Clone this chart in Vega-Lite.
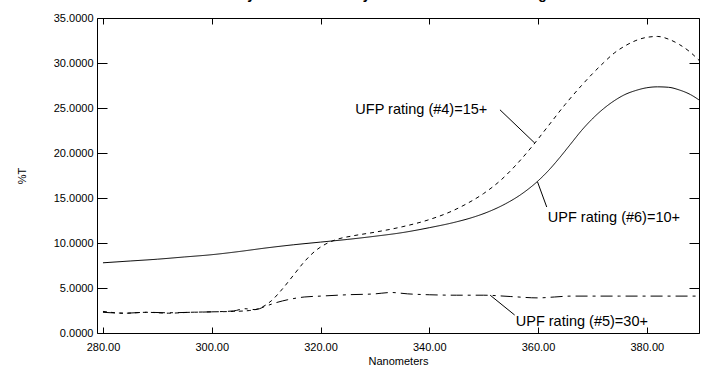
{
  "$schema": "https://vega.github.io/schema/vega-lite/v6.json",
  "autosize": {"type": "none"},
  "padding": {"left": 97, "top": 18, "right": 6, "bottom": 38},
  "width": 602,
  "height": 315,
  "background": "white",
  "title": {"text": "Transmittance by Fabric Assembly Tested versus UPF Rating", "font": "Liberation Sans", "fontSize": 14, "fontWeight": "bold", "color": "black", "anchor": "start", "frame": "group", "dx": 43, "offset": 10},
  "config": {
    "view": {"stroke": null},
    "axis": {"grid": false, "domainColor": "black", "tickColor": "black", "labelColor": "black", "titleColor": "black", "labelFont": "Liberation Sans", "titleFont": "Liberation Sans", "labelFontSize": 11, "titleFontSize": 11, "titleFontWeight": "normal"}
  },
  "datasets": {
    "curves": [
      {"s": "s6", "nm": 280, "v": 7.8}, {"s": "s6", "nm": 285, "v": 8.0}, {"s": "s6", "nm": 290, "v": 8.2}, {"s": "s6", "nm": 295, "v": 8.45}, {"s": "s6", "nm": 300, "v": 8.7}, {"s": "s6", "nm": 305, "v": 9.05}, {"s": "s6", "nm": 310, "v": 9.45}, {"s": "s6", "nm": 315, "v": 9.8}, {"s": "s6", "nm": 320, "v": 10.1}, {"s": "s6", "nm": 325, "v": 10.4}, {"s": "s6", "nm": 330, "v": 10.75}, {"s": "s6", "nm": 335, "v": 11.15}, {"s": "s6", "nm": 340, "v": 11.7}, {"s": "s6", "nm": 345, "v": 12.35}, {"s": "s6", "nm": 348, "v": 12.85}, {"s": "s6", "nm": 351, "v": 13.5}, {"s": "s6", "nm": 354, "v": 14.35}, {"s": "s6", "nm": 357, "v": 15.45}, {"s": "s6", "nm": 360, "v": 16.9}, {"s": "s6", "nm": 362, "v": 18.1}, {"s": "s6", "nm": 364, "v": 19.5}, {"s": "s6", "nm": 366, "v": 21.0}, {"s": "s6", "nm": 368, "v": 22.5}, {"s": "s6", "nm": 370, "v": 23.8}, {"s": "s6", "nm": 372, "v": 24.9}, {"s": "s6", "nm": 374, "v": 25.8}, {"s": "s6", "nm": 376, "v": 26.5}, {"s": "s6", "nm": 378, "v": 26.95}, {"s": "s6", "nm": 380, "v": 27.25}, {"s": "s6", "nm": 382, "v": 27.35}, {"s": "s6", "nm": 384, "v": 27.3}, {"s": "s6", "nm": 386, "v": 27.0}, {"s": "s6", "nm": 388, "v": 26.5}, {"s": "s6", "nm": 389.6, "v": 25.9},
      {"s": "s4", "nm": 280, "v": 2.4}, {"s": "s4", "nm": 284, "v": 2.2}, {"s": "s4", "nm": 288, "v": 2.3}, {"s": "s4", "nm": 292, "v": 2.2}, {"s": "s4", "nm": 296, "v": 2.3}, {"s": "s4", "nm": 300, "v": 2.35}, {"s": "s4", "nm": 304, "v": 2.4}, {"s": "s4", "nm": 307, "v": 2.5}, {"s": "s4", "nm": 309, "v": 2.8}, {"s": "s4", "nm": 311, "v": 3.6}, {"s": "s4", "nm": 313, "v": 4.9}, {"s": "s4", "nm": 315, "v": 6.4}, {"s": "s4", "nm": 317, "v": 7.9}, {"s": "s4", "nm": 319, "v": 9.1}, {"s": "s4", "nm": 321, "v": 9.9}, {"s": "s4", "nm": 323, "v": 10.4}, {"s": "s4", "nm": 326, "v": 10.8}, {"s": "s4", "nm": 330, "v": 11.2}, {"s": "s4", "nm": 335, "v": 11.8}, {"s": "s4", "nm": 340, "v": 12.6}, {"s": "s4", "nm": 344, "v": 13.5}, {"s": "s4", "nm": 347, "v": 14.4}, {"s": "s4", "nm": 350, "v": 15.5}, {"s": "s4", "nm": 353, "v": 16.9}, {"s": "s4", "nm": 356, "v": 18.7}, {"s": "s4", "nm": 359, "v": 20.8}, {"s": "s4", "nm": 362, "v": 23.1}, {"s": "s4", "nm": 365, "v": 25.4}, {"s": "s4", "nm": 368, "v": 27.5}, {"s": "s4", "nm": 370, "v": 28.8}, {"s": "s4", "nm": 372, "v": 30.0}, {"s": "s4", "nm": 374, "v": 31.1}, {"s": "s4", "nm": 376, "v": 31.9}, {"s": "s4", "nm": 378, "v": 32.5}, {"s": "s4", "nm": 380, "v": 32.85}, {"s": "s4", "nm": 382, "v": 32.95}, {"s": "s4", "nm": 384, "v": 32.65}, {"s": "s4", "nm": 386, "v": 32.05}, {"s": "s4", "nm": 388, "v": 31.2}, {"s": "s4", "nm": 389.6, "v": 30.3},
      {"s": "s5", "nm": 280, "v": 2.3}, {"s": "s5", "nm": 284, "v": 2.2}, {"s": "s5", "nm": 288, "v": 2.3}, {"s": "s5", "nm": 292, "v": 2.25}, {"s": "s5", "nm": 296, "v": 2.3}, {"s": "s5", "nm": 300, "v": 2.35}, {"s": "s5", "nm": 304, "v": 2.45}, {"s": "s5", "nm": 306, "v": 2.7}, {"s": "s5", "nm": 308, "v": 2.6}, {"s": "s5", "nm": 310, "v": 3.0}, {"s": "s5", "nm": 312, "v": 3.4}, {"s": "s5", "nm": 314, "v": 3.7}, {"s": "s5", "nm": 317, "v": 4.0}, {"s": "s5", "nm": 320, "v": 4.1}, {"s": "s5", "nm": 325, "v": 4.25}, {"s": "s5", "nm": 330, "v": 4.35}, {"s": "s5", "nm": 333, "v": 4.5}, {"s": "s5", "nm": 336, "v": 4.35}, {"s": "s5", "nm": 340, "v": 4.25}, {"s": "s5", "nm": 345, "v": 4.2}, {"s": "s5", "nm": 350, "v": 4.2}, {"s": "s5", "nm": 355, "v": 4.05}, {"s": "s5", "nm": 360, "v": 3.9}, {"s": "s5", "nm": 363, "v": 4.0}, {"s": "s5", "nm": 366, "v": 4.1}, {"s": "s5", "nm": 370, "v": 4.1}, {"s": "s5", "nm": 375, "v": 4.1}, {"s": "s5", "nm": 380, "v": 4.1}, {"s": "s5", "nm": 385, "v": 4.1}, {"s": "s5", "nm": 389.6, "v": 4.1}
    ],
    "labels": [
      {"label": "UFP rating (#4)=15+", "nm": 326.4, "v": 24.8},
      {"label": "UPF rating (#6)=10+", "nm": 361.8, "v": 12.8},
      {"label": "UPF rating (#5)=30+", "nm": 355.9, "v": 1.2}
    ],
    "leaders": [
      {"nm": 353.0, "v": 24.8, "nm2": 359.4, "v2": 21.1},
      {"nm": 361.6, "v": 14.0, "nm2": 359.9, "v2": 16.8},
      {"nm": 355.7, "v": 2.0, "nm2": 351.2, "v2": 4.2}
    ]
  },
  "resolve": {"axis": {"x": "independent", "y": "independent"}},
  "layer": [
    {
      "data": {"name": "curves"},
      "mark": {"type": "line", "color": "black", "strokeWidth": 1, "clip": true, "interpolate": "monotone"},
      "encoding": {
        "x": {"field": "nm", "type": "quantitative", "scale": {"domain": [278.9, 389.6], "nice": false, "zero": false},
              "axis": {"orient": "bottom", "values": [280, 300, 320, 340, 360, 380], "format": ".2f", "tickSize": -6, "labelPadding": 14, "title": "Nanometers", "titlePadding": 3}},
        "y": {"field": "v", "type": "quantitative", "scale": {"domain": [0, 35], "nice": false},
              "axis": {"orient": "left", "values": [0, 5, 10, 15, 20, 25, 30, 35], "format": ".4f", "tickSize": -10, "labelPadding": 14, "title": "%T", "titlePadding": 26}},
        "detail": {"field": "s"},
        "strokeDash": {"field": "s", "type": "nominal", "scale": {"domain": ["s6", "s4", "s5"], "range": [[1, 0], [4, 4], [12, 5, 3, 5]]}, "legend": null}
      }
    },
    {
      "data": {"name": "leaders"},
      "mark": {"type": "rule", "color": "black", "strokeWidth": 1},
      "encoding": {
        "x": {"field": "nm", "type": "quantitative", "scale": {"domain": [278.9, 389.6], "nice": false, "zero": false}, "axis": null},
        "y": {"field": "v", "type": "quantitative", "scale": {"domain": [0, 35], "nice": false}, "axis": null},
        "x2": {"field": "nm2"},
        "y2": {"field": "v2"}
      }
    },
    {
      "data": {"name": "labels"},
      "mark": {"type": "text", "align": "left", "baseline": "middle", "font": "Liberation Sans", "fontSize": 14.5, "color": "black"},
      "encoding": {
        "x": {"field": "nm", "type": "quantitative", "scale": {"domain": [278.9, 389.6], "nice": false, "zero": false}, "axis": null},
        "y": {"field": "v", "type": "quantitative", "scale": {"domain": [0, 35], "nice": false}, "axis": null},
        "text": {"field": "label"}
      }
    },
    {
      "data": {"name": "curves"},
      "mark": {"type": "point", "opacity": 0},
      "encoding": {
        "x": {"field": "nm", "type": "quantitative", "scale": {"domain": [278.9, 389.6], "nice": false, "zero": false},
              "axis": {"orient": "top", "values": [280, 300, 320, 340, 360, 380], "labels": false, "tickSize": -6, "title": null}},
        "y": {"field": "v", "type": "quantitative", "scale": {"domain": [0, 35], "nice": false},
              "axis": {"orient": "right", "values": [0, 5, 10, 15, 20, 25, 30, 35], "labels": false, "tickSize": -10, "title": null}}
      }
    }
  ]
}
